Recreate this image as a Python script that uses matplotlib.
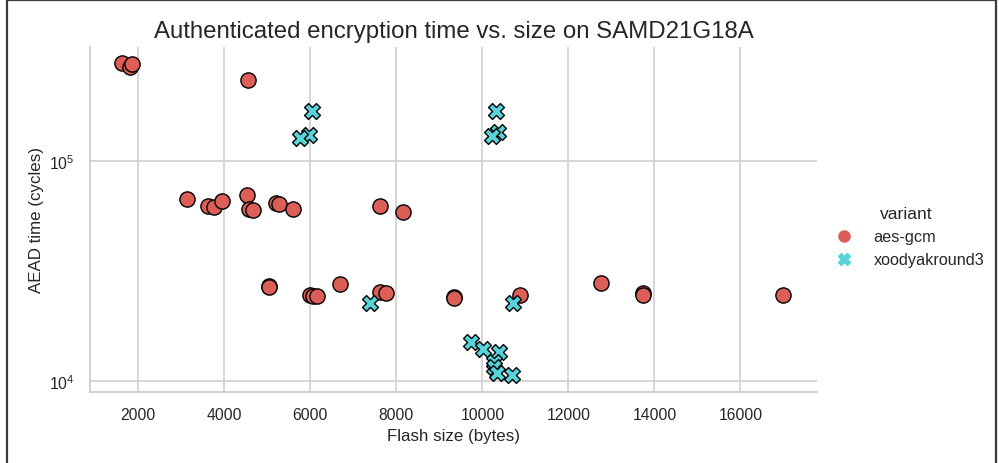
import matplotlib
matplotlib.use("Agg")
import matplotlib.pyplot as plt
import seaborn as sns
from matplotlib.lines import Line2D

# measurements: flash size (bytes) and AEAD time (cycles)
aes_x = [1630, 1810, 1860, 4560, 3130, 3630, 3760, 3950, 4520, 4570, 4670,
         5200, 5270, 5590, 5040, 5050, 5990, 6060, 6150, 6690, 7620, 8160,
         7620, 7750, 9330, 9330, 10880, 12760, 13730, 13730, 16980]
aes_y = [279000, 267000, 277000, 234000, 67400, 62200, 61800, 66200, 70300,
         60300, 60100, 64400, 64000, 60300, 27000, 26700, 24700, 24300, 24300,
         27500, 62200, 58400, 25400, 25000, 24100, 23900, 24700, 27900, 25100,
         24700, 24500]

xoo_x = [6030, 5980, 5760, 10320, 10370, 10220, 7390, 10710,
         9730, 10010, 10390, 10260, 10270, 10340, 10680]
xoo_y = [170000, 131700, 127200, 170000, 136300, 130700, 22700, 22600,
         15040, 14020, 13540, 12200, 11600, 10900, 10600]

variants = ["aes-gcm", "xoodyakround3"]
colors = ["#db5f57", "#57d3db"]

sns.set_theme(style="whitegrid")
plt.rcParams["font.family"] = ["Liberation Sans", "DejaVu Sans"]

fig = plt.figure(figsize=(9.99, 4.64), dpi=100)
ax = fig.add_axes([0.0901, 0.153, 0.7277, 0.7437])

ax.scatter(aes_x, aes_y, s=120, marker="o", color=colors[0],
           edgecolor="black", linewidth=1.0, label=variants[0], zorder=3)
ax.scatter(xoo_x, xoo_y, s=130, marker="X", color=colors[1],
           edgecolor="black", linewidth=1.0, label=variants[1], zorder=3)

ax.set_yscale("log")
ax.set_xlim(877, 17780)
ax.set_ylim(8900, 331000)
ax.set_xticks([2000, 4000, 6000, 8000, 10000, 12000, 14000, 16000])
ax.tick_params(labelsize=11.3, colors="#262626", pad=5)
ax.yaxis.set_minor_formatter(plt.NullFormatter())

ax.set_title("Authenticated encryption time vs. size on SAMD21G18A",
             fontsize=17.3, color="#262626", pad=7)
ax.set_xlabel("Flash size (bytes)", fontsize=12.2, color="#262626")
ax.set_ylabel("AEAD time (cycles)", fontsize=12.2, color="#262626")
ax.grid(True, color="#d0d0d0", linewidth=1.2)
sns.despine(ax=ax)
for side in ("left", "bottom"):
    ax.spines[side].set_color("#cccccc")

handles = [Line2D([], [], linestyle="", marker="o", markersize=8,
                  color=colors[0]),
           Line2D([], [], linestyle="", marker="X", markersize=8,
                  color=colors[1])]
leg = ax.legend(handles, variants, title="variant", frameon=False,
                loc="center left", bbox_to_anchor=(0.995, 0.45),
                fontsize=11.7, title_fontsize=12.6, handletextpad=0.8)

# outer frame
frame = dict(color="#3a3a3a", linewidth=1.6, transform=fig.transFigure)
fig.add_artist(Line2D([0.007, 0.007], [0.0, 0.998], **frame))
fig.add_artist(Line2D([0.007, 0.997], [0.998, 0.998], **frame))
fig.add_artist(Line2D([0.997, 0.997], [0.0, 0.998], **frame))

fig.savefig("out.png", dpi=100, facecolor="white")
